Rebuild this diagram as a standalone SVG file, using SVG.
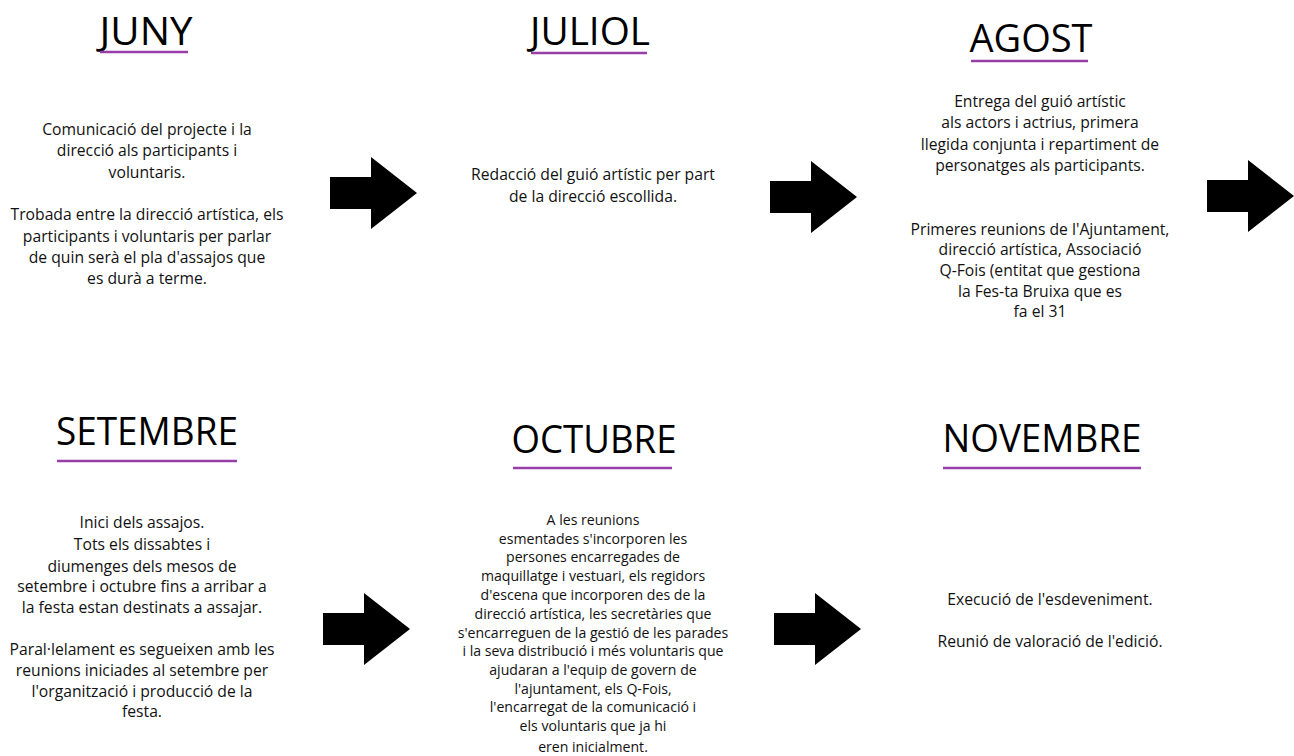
<svg xmlns="http://www.w3.org/2000/svg" width="1294" height="756" viewBox="0 0 1294 756">
<style>
.t{font-family:"Open Sans","Liberation Sans",sans-serif;font-size:39px;fill:#000;text-anchor:middle}
.b{font-family:"Open Sans","Liberation Sans",sans-serif;font-size:15.7px;fill:#111;text-anchor:middle}
.s{font-size:14.1px}
.u{stroke:#973fa6;stroke-width:2.6}
.a{fill:#000}
</style>
<defs>
<path id="arr" d="M0,20 H41 V0 L87,36 L41,72 V52 H0 Z"/>
</defs>
<rect width="1294" height="756" fill="#fff"/>
<g id="juny">
<text class="t" x="146" y="45" textLength="93" lengthAdjust="spacingAndGlyphs">JUNY</text>
<line class="u" x1="100" y1="52" x2="188" y2="52"/>
<text class="b" x="147"><tspan x="147" y="135">Comunicació del projecte i la</tspan><tspan x="147" y="156">direcció als participants i</tspan><tspan x="147" y="178">voluntaris.</tspan><tspan x="147" y="220">Trobada entre la direcció artística, els</tspan><tspan x="147" y="242">participants i voluntaris per parlar</tspan><tspan x="147" y="263">de quin serà el pla d'assajos que</tspan><tspan x="147" y="284">es durà a terme.</tspan></text>
</g>
<g id="juliol">
<text class="t" x="590" y="45" textLength="120" lengthAdjust="spacingAndGlyphs">JULIOL</text>
<line class="u" x1="531" y1="53" x2="647" y2="53"/>
<text class="b"><tspan x="593" y="180">Redacció del guió artístic per part</tspan><tspan x="593" y="202">de la direcció escollida.</tspan></text>
</g>
<g id="agost">
<text class="t" x="1031" y="52" textLength="123" lengthAdjust="spacingAndGlyphs">AGOST</text>
<line class="u" x1="971" y1="61" x2="1088" y2="61"/>
<text class="b"><tspan x="1040" y="107">Entrega del guió artístic</tspan><tspan x="1040" y="128">als actors i actrius, primera</tspan><tspan x="1040" y="150">llegida conjunta i repartiment de</tspan><tspan x="1040" y="171">personatges als participants.</tspan><tspan x="1040" y="235">Primeres reunions de l'Ajuntament,</tspan><tspan x="1040" y="255">direcció artística, Associació</tspan><tspan x="1040" y="276">Q-Fois (entitat que gestiona</tspan><tspan x="1040" y="297">la Fes-ta Bruixa que es</tspan><tspan x="1040" y="317">fa el 31</tspan></text>
</g>
<g id="setembre">
<text class="t" x="147" y="445" textLength="182" lengthAdjust="spacingAndGlyphs">SETEMBRE</text>
<line class="u" x1="57" y1="461" x2="237" y2="461"/>
<text class="b"><tspan x="142" y="528">Inici dels assajos.</tspan><tspan x="142" y="550">Tots els dissabtes i</tspan><tspan x="142" y="572">diumenges dels mesos de</tspan><tspan x="142" y="592">setembre i octubre fins a arribar a</tspan><tspan x="142" y="613">la festa estan destinats a assajar.</tspan><tspan x="142" y="655">Paral·lelament es segueixen amb les</tspan><tspan x="142" y="676">reunions iniciades al setembre per</tspan><tspan x="142" y="697">l'organització i producció de la</tspan><tspan x="142" y="717">festa.</tspan></text>
</g>
<g id="octubre">
<text class="t" x="594" y="453" textLength="165" lengthAdjust="spacingAndGlyphs">OCTUBRE</text>
<line class="u" x1="513" y1="468" x2="672" y2="468"/>
<text class="b s"><tspan x="593" y="525">A les reunions</tspan><tspan x="593" y="544">esmentades s'incorporen les</tspan><tspan x="593" y="562">persones encarregades de</tspan><tspan x="593" y="581">maquillatge i vestuari, els regidors</tspan><tspan x="593" y="600">d'escena que incorporen des de la</tspan><tspan x="593" y="619">direcció artística, les secretàries que</tspan><tspan x="593" y="638">s'encarreguen de la gestió de les parades</tspan><tspan x="593" y="656">i la seva distribució i més voluntaris que</tspan><tspan x="593" y="675">ajudaran a l'equip de govern de</tspan><tspan x="593" y="694">l'ajuntament, els Q-Fois,</tspan><tspan x="593" y="712">l'encarregat de la comunicació i</tspan><tspan x="593" y="731">els voluntaris que ja hi</tspan><tspan x="593" y="752">eren inicialment.</tspan></text>
</g>
<g id="novembre">
<text class="t" x="1042" y="452" textLength="199" lengthAdjust="spacingAndGlyphs">NOVEMBRE</text>
<line class="u" x1="943" y1="468" x2="1141" y2="468"/>
<text class="b"><tspan x="1050" y="605">Execució de l'esdeveniment.</tspan><tspan x="1050" y="647">Reunió de valoració de l'edició.</tspan></text>
</g>
<g id="connectors">
<use href="#arr" class="a" transform="translate(330,157)"/>
<use href="#arr" class="a" transform="translate(770,161)"/>
<use href="#arr" class="a" transform="translate(1207,160)"/>
<use href="#arr" class="a" transform="translate(323,593)"/>
<use href="#arr" class="a" transform="translate(774,593)"/>
</g>
</svg>
